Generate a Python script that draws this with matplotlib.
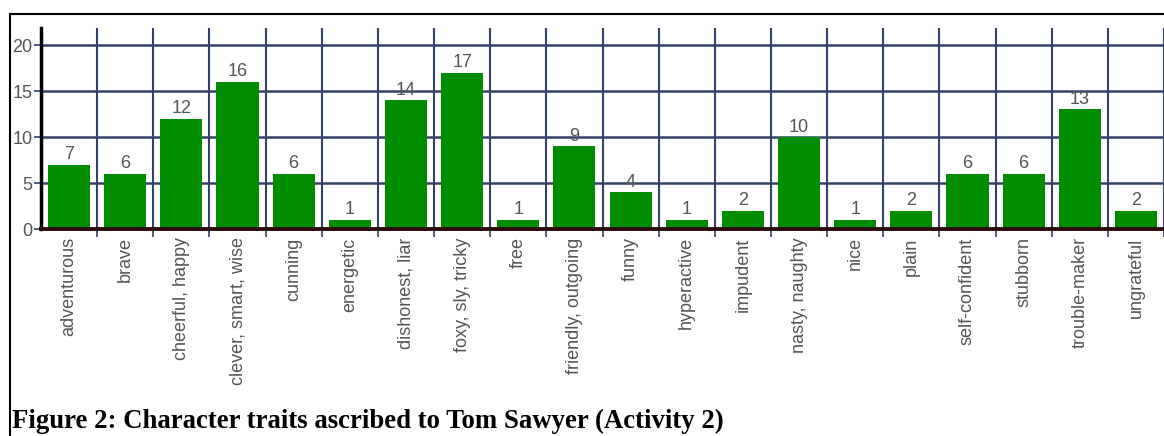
import matplotlib
matplotlib.use("Agg")
import matplotlib.pyplot as plt
from matplotlib.lines import Line2D

# Character traits and how many times each was named
traits = ["adventurous", "brave", "cheerful, happy", "clever, smart, wise",
          "cunning", "energetic", "dishonest, liar", "foxy, sly, tricky",
          "free", "friendly, outgoing", "funny", "hyperactive", "impudent",
          "nasty, naughty", "nice", "plain", "self-confident", "stubborn",
          "trouble-maker", "ungrateful"]
counts = [7, 6, 12, 16, 6, 1, 14, 17, 1, 9, 4, 1, 2, 10, 1, 2, 6, 6, 13, 2]
y_ticks = [0, 5, 10, 15, 20]

caption = "Figure 2: Character traits ascribed to Tom Sawyer (Activity 2)"

plt.rcParams["font.family"] = ["Liberation Sans", "DejaVu Sans"]

W, H = 1164, 436
fig = plt.figure(figsize=(W / 100, H / 100), dpi=100)
fig.patch.set_facecolor("white")

# plot area in pixel terms: x from 41 to 1164, y from 28 (top) to 229 (zero)
left, right, top, bottom = 41, 1164, 28, 229
ax = fig.add_axes([left / W, (H - bottom) / H, (right - left) / W, (bottom - top) / H])

n = len(traits)
x = list(range(n))
ax.set_xlim(-0.5, n - 0.5)
ax.set_ylim(0, 21.85)

grid_col = "#34426a"
# horizontal grid
for v in y_ticks[1:]:
    ax.axhline(v, color=grid_col, lw=1.8, zorder=1)
# vertical grid at category boundaries
for i in range(1, n + 1):
    ax.axvline(i - 0.5, color=grid_col, lw=1.5, zorder=1)

bars = ax.bar(x, counts, width=0.75, color="#008e00", zorder=2)
for b, c in zip(bars, counts):
    ax.annotate(str(c), (b.get_x() + b.get_width() / 2, c), xytext=(0, 1),
                textcoords="offset points", ha="center", va="bottom",
                fontsize=13, color="#555555", zorder=3)

for s in ["top", "right"]:
    ax.spines[s].set_visible(False)
ax.spines["left"].set_linewidth(2.5)
ax.spines["left"].set_color("black")
ax.spines["bottom"].set_linewidth(2.8)
ax.spines["bottom"].set_color("#2a0a0a")
ax.spines["bottom"].set_zorder(4)

ax.set_yticks(y_ticks)
ax.set_yticklabels([str(v) for v in y_ticks], fontsize=13, color="#555555")
ax.tick_params(axis="y", length=5, width=1.2, color=grid_col, pad=1)

ax.set_xticks([i - 0.5 for i in range(1, n + 1)])
ax.set_xticklabels([])
ax.tick_params(axis="x", length=6, width=1.2, color=grid_col)
ax.set_xticks(x, minor=True)
ax.set_xticklabels(traits, minor=True, rotation=90, fontsize=13,
                   color="#555555", va="top", ha="center")
ax.tick_params(axis="x", which="minor", length=0, pad=6)

# frame around the figure area
fig.add_artist(Line2D([10 / W, 1.0], [(H - 14) / H] * 2, color="black", lw=1.5))
fig.add_artist(Line2D([10 / W] * 2, [0, (H - 14) / H], color="black", lw=1.5))

fig.text(12 / W, (H - 428) / H, caption, fontsize=19.3, fontweight="bold",
         family=["Liberation Serif", "DejaVu Serif"], va="baseline", ha="left")

fig.savefig("out.png", dpi=100)
